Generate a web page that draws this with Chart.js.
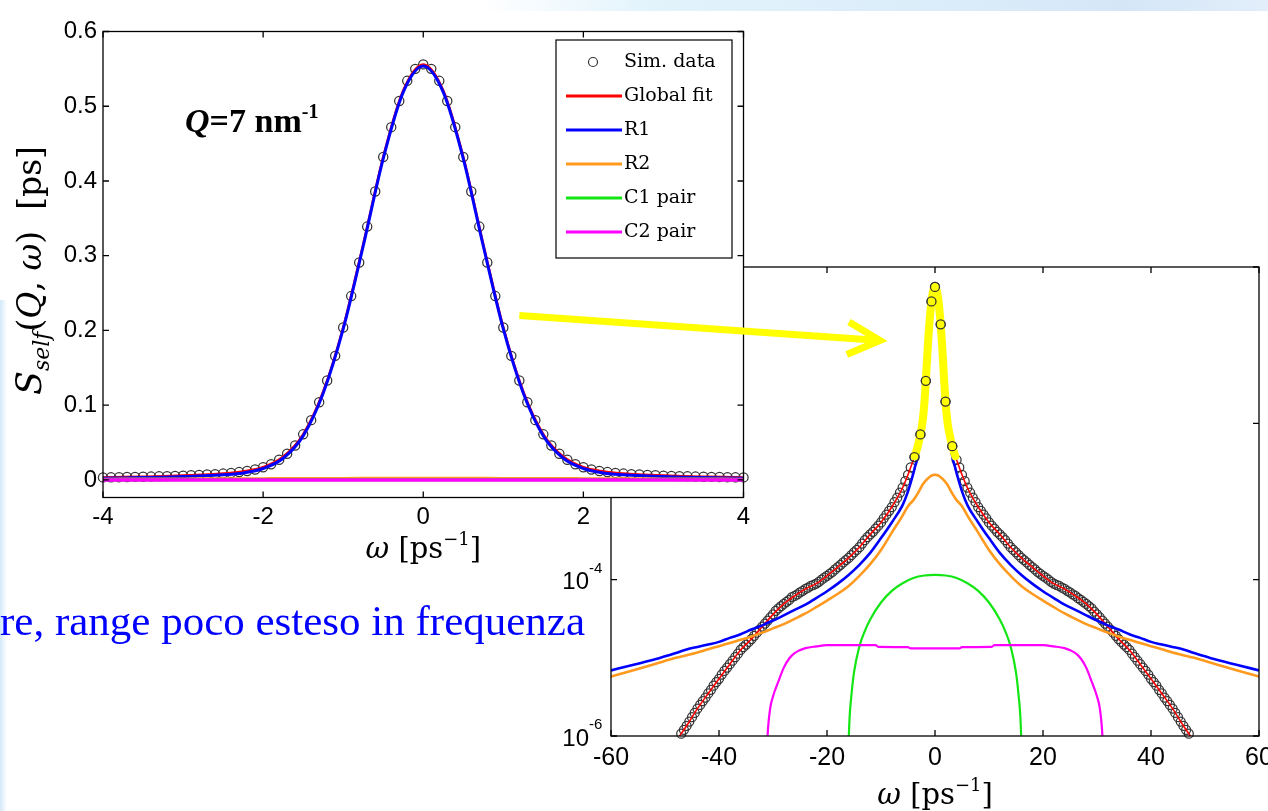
<!DOCTYPE html>
<html>
<head>
<meta charset="utf-8">
<title>S self (Q, omega)</title>
<script src="https://cdn.jsdelivr.net/npm/chart.js@4.4.1/dist/chart.umd.min.js"></script>
<style>
  html, body { margin: 0; padding: 0; width: 1268px; height: 811px; overflow: hidden; background: #fff; }
  .band-top { position: absolute; left: 480px; top: 0; width: 788px; height: 11px;
    background: linear-gradient(to right, rgba(226,243,252,0) 0%, #e2f3fc 22%, #dcedfa 55%, #d5e6f7 82%, #e2eefa 100%); }
  .band-left { position: absolute; left: 0; top: 300px; width: 7px; height: 511px;
    background: linear-gradient(to right, #d2e9f8, rgba(255,255,255,0)); }
  #logBox { position: absolute; left: 540px; top: 240px; width: 760px; height: 571px; }
  #linBox { position: absolute; left: 0; top: 0; width: 900px; height: 580px; }
  #note { position: absolute; left: 0; top: 596px; font: 43px 'Liberation Serif', serif; color: #0000ff; white-space: nowrap; }
</style>
</head>
<body>
<div class="band-top"></div>
<div class="band-left"></div>
<div id="logBox"><canvas id="logChart"></canvas></div>
<div id="linBox"><canvas id="linChart"></canvas></div>
<div id="note">re, range poco esteso in frequenza</div>
<script>
// simulated points, linear panel (omega in ps^-1, S in ps)
const linOmega = [-4.0,-3.9,-3.8,-3.7,-3.6,-3.5,-3.4,-3.3,-3.2,-3.1,-3.0,-2.9,-2.8,-2.7,-2.6,-2.5,-2.4,-2.3,-2.2,-2.1,
  -2.0,-1.9,-1.8,-1.7,-1.6,-1.5,-1.4,-1.3,-1.2,-1.1,-1.0,-0.9,-0.8,-0.7,-0.6,-0.5,-0.4,-0.3,-0.2,-0.1,
  0.0,0.1,0.2,0.3,0.4,0.5,0.6,0.7,0.8,0.9,1.0,1.1,1.2,1.3,1.4,1.5,1.6,1.7,1.8,1.9,
  2.0,2.1,2.2,2.3,2.4,2.5,2.6,2.7,2.8,2.9,3.0,3.1,3.2,3.3,3.4,3.5,3.6,3.7,3.8,3.9,4.0];
const linSim = [0.0034,0.0035,0.0037,0.0039,0.0041,0.0043,0.0045,0.0048,0.0051,0.0054,0.0058,0.0062,0.0067,0.0072,0.0078,0.0085,0.0094,0.0105,0.012,0.014,
  0.017,0.021,0.027,0.035,0.046,0.061,0.080,0.104,0.133,0.166,0.204,0.246,0.291,0.339,0.386,0.432,0.472,0.507,0.534,0.550,
  0.556,0.550,0.534,0.507,0.472,0.432,0.386,0.339,0.291,0.246,0.204,0.166,0.133,0.104,0.080,0.061,0.046,0.035,0.027,0.021,
  0.017,0.014,0.012,0.0105,0.0094,0.0085,0.0078,0.0072,0.0067,0.0062,0.0058,0.0054,0.0051,0.0048,0.0045,0.0043,0.0041,0.0039,0.0037,0.0035,0.0034];

// simulated points, log panel
const logOmega = [-47,-46.5,-46,-45.5,-45,-44.5,-44,-43.5,-43,-42.5,-42,-41.5,-41,-40.5,-40,-39.5,-39,-38.5,-38,-37.5,-37,-36.5,-36,-35.5,-35,-34.5,-34,-33.5,-33,-32.5,-32,-31.5,-31,-30.5,-30,-29.5,-29,-28.5,-28,-27.5,-27,-26.5,-26,-25.5,-25,-24.5,-24,-23.5,-23,-22.5,-22,-21.5,-21,-20.5,-20,-19.5,-19,-18.5,-18,-17.5,-17,-16.5,-16,-15.5,-15,-14.5,-14,-13.5,-13,-12.5,-12,-11.5,-11,-10.5,-10,-9.5,-9,-8.5,-8,-7.5,-7,-6.5,-6,-5.5,-5,-4.5,
  -3.8,-2.7,-1.7,-0.65,0,1.05,1.95,3.2,
  4,4.5,5,5.5,6,6.5,7,7.5,8,8.5,9,9.5,10,10.5,11,11.5,12,12.5,13,13.5,14,14.5,15,15.5,16,16.5,17,17.5,18,18.5,19,19.5,20,20.5,21,21.5,22,22.5,23,23.5,24,24.5,25,25.5,26,26.5,27,27.5,28,28.5,29,29.5,30,30.5,31,31.5,32,32.5,33,33.5,34,34.5,35,35.5,36,36.5,37,37.5,38,38.5,39,39.5,40,40.5,41,41.5,42,42.5,43,43.5,44,44.5,45,45.5,46,46.5,47];
const logSim = [1.07e-6,1.2e-6,1.35e-6,1.53e-6,1.74e-6,1.97e-6,2.24e-6,2.5e-6,2.8e-6,3.1e-6,3.5e-6,3.9e-6,4.4e-6,4.9e-6,5.4e-6,6.1e-6,6.8e-6,7.5e-6,8.3e-6,9.2e-6,1.02e-5,1.13e-5,1.26e-5,1.37e-5,1.48e-5,1.6e-5,1.74e-5,1.91e-5,2.1e-5,2.29e-5,2.5e-5,2.74e-5,3.0e-5,3.3e-5,3.6e-5,4.0e-5,4.3e-5,4.6e-5,4.9e-5,5.2e-5,5.5e-5,6.0e-5,6.2e-5,6.5e-5,6.9e-5,7.2e-5,7.6e-5,7.9e-5,8.3e-5,8.6e-5,8.9e-5,9.4e-5,1.0e-4,1.06e-4,1.12e-4,1.19e-4,1.26e-4,1.35e-4,1.45e-4,1.55e-4,1.66e-4,1.78e-4,1.9e-4,2.06e-4,2.24e-4,2.4e-4,2.6e-4,2.9e-4,3.2e-4,3.5e-4,3.8e-4,4.1e-4,4.5e-4,4.9e-4,5.4e-4,6.1e-4,6.8e-4,7.6e-4,8.5e-4,9.8e-4,1.12e-3,1.3e-3,1.51e-3,1.82e-3,2.19e-3,2.73e-3,
  0.0037,0.0072,0.035,0.362,0.556,0.185,0.019,0.0051,
  3.4e-3,2.73e-3,2.19e-3,1.82e-3,1.51e-3,1.3e-3,1.12e-3,9.8e-4,8.5e-4,7.6e-4,6.8e-4,6.1e-4,5.4e-4,4.9e-4,4.5e-4,4.1e-4,3.8e-4,3.5e-4,3.2e-4,2.9e-4,2.6e-4,2.4e-4,2.24e-4,2.06e-4,1.9e-4,1.78e-4,1.66e-4,1.55e-4,1.45e-4,1.35e-4,1.26e-4,1.19e-4,1.12e-4,1.06e-4,1.0e-4,9.4e-5,8.9e-5,8.6e-5,8.3e-5,7.9e-5,7.6e-5,7.2e-5,6.9e-5,6.5e-5,6.2e-5,5.8e-5,5.5e-5,5.2e-5,4.9e-5,4.6e-5,4.3e-5,3.9e-5,3.6e-5,3.3e-5,3.0e-5,2.74e-5,2.5e-5,2.29e-5,2.1e-5,1.91e-5,1.74e-5,1.6e-5,1.48e-5,1.37e-5,1.26e-5,1.13e-5,1.02e-5,9.2e-6,8.3e-6,7.5e-6,6.8e-6,6.1e-6,5.4e-6,4.9e-6,4.4e-6,3.9e-6,3.5e-6,3.1e-6,2.8e-6,2.5e-6,2.24e-6,1.97e-6,1.74e-6,1.53e-6,1.35e-6,1.2e-6,1.07e-6];

// fitted curves: global fit, R1, R2 share one grid
const fitOmega = [-60,-56,-52,-48,-46,-44,-42,-40,-38,-36,-34,-32,-30,-28,-26,-24,-22,-20,-18,-16,-14,-12,-10,-8,-6,-5,-4,
  -3.75,-3.5,-3.25,-3,-2.75,-2.5,-2.25,-2,-1.75,-1.5,-1.25,-1,-0.75,-0.5,-0.25,0,0.25,0.5,0.75,1,1.25,1.5,1.75,2,2.25,2.5,2.75,3,3.25,3.5,3.75,
  4,5,6,8,10,12,14,16,18,20,22,24,26,28,30,32,34,36,38,40,42,44,46,48,52,56,60];
const globalFit = [6e-8,1.4e-7,3.4e-7,8.5e-7,1.35e-6,2.24e-6,3.5e-6,5.4e-6,8.3e-6,1.26e-5,1.74e-5,2.5e-5,3.6e-5,4.9e-5,6.2e-5,7.6e-5,8.9e-5,1.12e-4,1.45e-4,1.9e-4,2.6e-4,3.8e-4,5.4e-4,8.5e-4,1.5e-3,2.2e-3,3.4e-3,
  3.8e-3,4.3e-3,4.9e-3,5.8e-3,7.0e-3,8.5e-3,1.13e-2,1.7e-2,3.1e-2,6.1e-2,0.118,0.204,0.315,0.432,0.521,0.556,0.521,0.432,0.315,0.204,0.118,6.1e-2,3.1e-2,1.7e-2,1.13e-2,8.5e-3,7.0e-3,5.8e-3,4.9e-3,4.3e-3,3.8e-3,
  3.4e-3,2.2e-3,1.5e-3,8.5e-4,5.4e-4,3.8e-4,2.6e-4,1.9e-4,1.45e-4,1.12e-4,8.9e-5,7.6e-5,6.2e-5,4.9e-5,3.6e-5,2.5e-5,1.74e-5,1.26e-5,8.3e-6,5.4e-6,3.5e-6,2.24e-6,1.35e-6,8.5e-7,3.4e-7,1.4e-7,6e-8];
const r1Fit = [6.9e-6,8.1e-6,9.5e-6,1.15e-5,1.28e-5,1.38e-5,1.48e-5,1.6e-5,1.8e-5,2.0e-5,2.3e-5,2.6e-5,3.0e-5,3.5e-5,4.1e-5,4.8e-5,5.8e-5,7.1e-5,8.9e-5,1.15e-4,1.55e-4,2.2e-4,3.4e-4,5.4e-4,9.0e-4,1.35e-3,2.3e-3,
  2.7e-3,3.1e-3,3.6e-3,4.5e-3,5.5e-3,7.0e-3,9.4e-3,1.53e-2,2.9e-2,5.9e-2,0.116,0.202,0.313,0.430,0.519,0.554,0.519,0.430,0.313,0.202,0.116,5.9e-2,2.9e-2,1.53e-2,9.4e-3,7.0e-3,5.5e-3,4.5e-3,3.6e-3,3.1e-3,2.7e-3,
  2.3e-3,1.35e-3,9.0e-4,5.4e-4,3.4e-4,2.2e-4,1.55e-4,1.15e-4,8.9e-5,7.1e-5,5.8e-5,4.8e-5,4.1e-5,3.5e-5,3.0e-5,2.6e-5,2.3e-5,2.0e-5,1.8e-5,1.6e-5,1.48e-5,1.38e-5,1.28e-5,1.15e-5,9.5e-6,8.1e-6,6.9e-6];
const r2Fit = [5.75e-6,6.9e-6,8.3e-6,1.0e-5,1.08e-5,1.17e-5,1.29e-5,1.41e-5,1.55e-5,1.7e-5,1.88e-5,2.1e-5,2.38e-5,2.7e-5,3.15e-5,3.7e-5,4.45e-5,5.4e-5,6.6e-5,8.3e-5,1.12e-4,1.58e-4,2.4e-4,4.0e-4,6.6e-4,8.7e-4,1.04e-3,
  1.10e-3,1.17e-3,1.25e-3,1.34e-3,1.44e-3,1.55e-3,1.66e-3,1.75e-3,1.84e-3,1.92e-3,1.99e-3,2.06e-3,2.12e-3,2.17e-3,2.19e-3,2.2e-3,2.19e-3,2.17e-3,2.12e-3,2.06e-3,1.99e-3,1.92e-3,1.84e-3,1.75e-3,1.66e-3,1.55e-3,1.44e-3,1.34e-3,1.25e-3,1.17e-3,1.10e-3,
  1.04e-3,8.7e-4,6.6e-4,4.0e-4,2.4e-4,1.58e-4,1.12e-4,8.3e-5,6.6e-5,5.4e-5,4.45e-5,3.7e-5,3.15e-5,2.7e-5,2.38e-5,2.1e-5,1.88e-5,1.7e-5,1.55e-5,1.41e-5,1.29e-5,1.17e-5,1.08e-5,1.0e-5,8.3e-6,6.9e-6,5.75e-6];

// pair contributions
const c1Omega = [-16.3,-16,-15.8,-15.5,-15,-14,-13,-12,-10,-8,-6,-4,-2,0,2,4,6,8,10,12,13,14,15,15.5,15.8,16,16.3];
const c1Fit = [1e-7,8e-7,1.8e-6,3.2e-6,6.5e-6,1.4e-5,2.2e-5,3.1e-5,5.1e-5,7.2e-5,9.0e-5,1.05e-4,1.13e-4,1.15e-4,1.13e-4,1.05e-4,9.0e-5,7.2e-5,5.1e-5,3.1e-5,2.2e-5,1.4e-5,6.5e-6,3.2e-6,1.8e-6,8e-7,1e-7];
const c2Omega = [-31.5,-31,-30.5,-30,-29,-28,-27,-26,-24,-22,-20,-11,-10.5,-5,-4.5,0,4.5,5,10.5,11,20,22,24,26,27,28,29,30,30.5,31,31.5];
const c2Fit = [1e-7,1.0e-6,2.3e-6,3.2e-6,5.0e-6,7.5e-6,9.8e-6,1.15e-5,1.33e-5,1.4e-5,1.45e-5,1.45e-5,1.38e-5,1.37e-5,1.32e-5,1.32e-5,1.32e-5,1.37e-5,1.38e-5,1.45e-5,1.45e-5,1.4e-5,1.33e-5,1.15e-5,9.8e-6,7.5e-6,5.0e-6,3.2e-6,2.3e-6,1.0e-6,1e-7];

// ticks
const linXTicks = [-4, -2, 0, 2, 4];
const linYTicks = [0, 0.1, 0.2, 0.3, 0.4, 0.5, 0.6];
const logXTicks = [-60, -40, -20, 0, 20, 40, 60];
const logYTicks = [1e-6, 1e-4, 1e-2, 1];

const seriesNames = ['Sim. data', 'Global fit', 'R1', 'R2', 'C1 pair', 'C2 pair'];
const seriesColors = ['#333333', '#ff0000', '#0000ff', '#ff9a1f', '#14e614', '#ff00ff'];

// annotations (in data units of each panel)
const qLabelAt = { x: -2.975, y: 0.466 };
const arrowFrom = { x: 1.2, y: 0.22 };   // linear panel
const arrowTo = { x: -10.2, y: 0.115 };  // log panel
const logOffset = { x: 540, y: 240 };    // log panel box relative to linear panel box

Chart.defaults.font.family = "'Liberation Sans', Arial, sans-serif";
Chart.defaults.color = '#000';

function pts(xs, ys, keep) {
  const out = [];
  xs.forEach((x, i) => { if (!keep || keep(x)) out.push({ x: x, y: ys[i] }); });
  return out;
}

function marks(xs, ys, radius, order, keep) {
  return {
    label: seriesNames[0], data: pts(xs, ys, keep), showLine: false,
    pointRadius: radius, pointBorderWidth: 1.25, pointBorderColor: seriesColors[0],
    pointBackgroundColor: 'rgba(0,0,0,0)', order: order, clip: 8
  };
}

function curve(xs, ys, k, width, order) {
  return {
    label: seriesNames[k], data: pts(xs, ys), showLine: true,
    borderColor: seriesColors[k], borderWidth: width, pointRadius: 0,
    cubicInterpolationMode: 'monotone', order: order
  };
}

function drawRuns(ctx, runs, x, y, align) {
  let w = 0;
  runs.forEach(r => { ctx.font = r.f; w += ctx.measureText(r.t).width; });
  let cx = align === 'center' ? x - w / 2 : x;
  runs.forEach(r => {
    ctx.font = r.f;
    ctx.fillText(r.t, cx, y + (r.dy || 0));
    cx += ctx.measureText(r.t).width;
  });
}

const serif = '"DejaVu Serif", serif';
const xTitleRuns = [
  { t: 'ω', f: 'italic 29px ' + serif },
  { t: ' [ps', f: '29px ' + serif },
  { t: '−1', f: '18px ' + serif, dy: -13 },
  { t: ']', f: '29px ' + serif }
];
const yTitleRuns = [
  { t: 'S', f: 'italic 35px ' + serif },
  { t: 'self', f: 'italic 22px ' + serif, dy: 8 },
  { t: '(', f: '33px ' + serif },
  { t: 'Q', f: 'italic 33px ' + serif },
  { t: ', ', f: '33px ' + serif },
  { t: 'ω', f: 'italic 33px ' + serif },
  { t: ')', f: '33px ' + serif },
  { t: '  [ps]', f: '33px ' + serif }
];

// box with inward tick marks, MATLAB style
function framePlugin(xTicks, yTicks, fill) {
  return {
    id: 'frame',
    beforeDraw(chart) {
      if (!fill) return;
      const a = chart.chartArea, ctx = chart.ctx;
      ctx.save();
      ctx.fillStyle = fill;
      ctx.fillRect(a.left, a.top, a.right - a.left, a.bottom - a.top);
      ctx.restore();
    },
    afterDraw(chart) {
      const a = chart.chartArea, ctx = chart.ctx, xs = chart.scales.x, ys = chart.scales.y;
      ctx.save();
      ctx.strokeStyle = '#000';
      ctx.lineWidth = 1.3;
      ctx.strokeRect(a.left, a.top, a.right - a.left, a.bottom - a.top);
      ctx.beginPath();
      xTicks.forEach(v => {
        const p = xs.getPixelForValue(v);
        ctx.moveTo(p, a.bottom); ctx.lineTo(p, a.bottom - 6);
        ctx.moveTo(p, a.top); ctx.lineTo(p, a.top + 6);
      });
      yTicks.forEach(v => {
        const p = ys.getPixelForValue(v);
        ctx.moveTo(a.left, p); ctx.lineTo(a.left + 6, p);
        ctx.moveTo(a.right, p); ctx.lineTo(a.right - 6, p);
      });
      ctx.stroke();
      ctx.restore();
    }
  };
}

const logDecor = {
  id: 'logDecor',
  afterDraw(chart) {
    const ctx = chart.ctx, a = chart.chartArea, xs = chart.scales.x, ys = chart.scales.y;
    ctx.save();
    ctx.fillStyle = '#000';
    logYTicks.forEach(v => {
      const p = ys.getPixelForValue(v);
      const e = Math.round(Math.log10(v));
      ctx.font = "24px 'Liberation Sans'";
      ctx.textAlign = 'right';
      ctx.textBaseline = 'middle';
      ctx.fillText('10', a.left - 22, p + 3);
      ctx.font = "15px 'Liberation Sans'";
      ctx.textAlign = 'left';
      ctx.fillText(e === 0 ? '0' : '-' + Math.abs(e), a.left - 22, p - 11);
    });
    ctx.textAlign = 'left';
    ctx.textBaseline = 'alphabetic';
    drawRuns(ctx, xTitleRuns, xs.getPixelForValue(0), a.bottom + 68, 'center');
    ctx.restore();
  }
};

const logChart = new Chart(document.getElementById('logChart'), {
  type: 'scatter',
  data: {
    datasets: [
      marks(logOmega, logSim, 4.5, 0, x => Math.abs(x) < 4),
      { label: 'highlight', data: pts(fitOmega, globalFit, x => Math.abs(x) <= 3.75), showLine: true,
        borderColor: '#ffff00', borderWidth: 8, borderCapStyle: 'round', pointRadius: 0,
        cubicInterpolationMode: 'monotone', order: 1 },
      curve(c2Omega, c2Fit, 5, 2.2, 2),
      curve(c1Omega, c1Fit, 4, 2.2, 3),
      curve(fitOmega, r2Fit, 3, 2.6, 4),
      curve(fitOmega, r1Fit, 2, 2.6, 5),
      curve(fitOmega, globalFit, 1, 1.6, 6),
      marks(logOmega, logSim, 4.5, 7)
    ]
  },
  options: {
    animation: false, responsive: true, maintainAspectRatio: false, events: [],
    layout: { autoPadding: false, padding: { left: 21, right: 41, top: 27, bottom: 35 } },
    plugins: { legend: { display: false }, tooltip: { enabled: false } },
    scales: {
      x: {
        type: 'linear', min: -60, max: 60,
        afterBuildTicks: s => { s.ticks = logXTicks.map(v => ({ value: v })); },
        afterFit: s => { s.height = 40; },
        grid: { display: false, drawTicks: false }, border: { display: false },
        ticks: { autoSkip: false, maxRotation: 0, padding: 7, font: { size: 25 } }
      },
      y: {
        type: 'logarithmic', min: 1e-6, max: 1,
        afterFit: s => { s.width = 50; },
        grid: { display: false, drawTicks: false }, border: { display: false },
        ticks: { display: false }
      }
    }
  },
  plugins: [framePlugin(logXTicks, logYTicks, null), logDecor]
});

const linDecor = {
  id: 'linDecor',
  afterDraw(chart) {
    const ctx = chart.ctx, a = chart.chartArea, xs = chart.scales.x, ys = chart.scales.y;
    ctx.save();
    ctx.fillStyle = '#000';
    ctx.textAlign = 'left';
    ctx.textBaseline = 'alphabetic';

    // Q = 7 nm^-1
    drawRuns(ctx, [
      { t: 'Q', f: 'italic bold 34px "Liberation Serif"' },
      { t: '=7 nm', f: 'bold 34px "Liberation Serif"' },
      { t: '-1', f: 'bold 20px "Liberation Serif"', dy: -14 }
    ], xs.getPixelForValue(qLabelAt.x), ys.getPixelForValue(qLabelAt.y), 'left');

    // axis titles
    drawRuns(ctx, xTitleRuns, xs.getPixelForValue(0), a.bottom + 60, 'center');
    ctx.save();
    ctx.translate(41, (a.top + a.bottom) / 2 + 6);
    ctx.rotate(-Math.PI / 2);
    drawRuns(ctx, yTitleRuns, 0, 0, 'center');
    ctx.restore();

    // legend
    const bx = a.right - 187.5, by = a.top + 8.5, bw = 176, bh = 218;
    ctx.fillStyle = '#fff';
    ctx.fillRect(bx, by, bw, bh);
    ctx.strokeStyle = '#000';
    ctx.lineWidth = 1.2;
    ctx.strokeRect(bx, by, bw, bh);
    ctx.font = '19px ' + serif;
    ctx.textBaseline = 'middle';
    chart.data.datasets.forEach((ds, i) => {
      const yy = by + 22 + 34 * i;
      if (i === 0) {
        ctx.beginPath();
        ctx.arc(bx + 37, yy, 4.5, 0, Math.PI * 2);
        ctx.strokeStyle = ds.pointBorderColor;
        ctx.lineWidth = 1.2;
        ctx.stroke();
      } else {
        ctx.beginPath();
        ctx.moveTo(bx + 10, yy);
        ctx.lineTo(bx + 66, yy);
        ctx.strokeStyle = ds.borderColor;
        ctx.lineWidth = 3;
        ctx.stroke();
      }
      ctx.fillStyle = '#000';
      ctx.fillText(ds.label, bx + 68, yy);
    });

    // yellow arrow from this panel to the log panel peak
    const p0 = { x: xs.getPixelForValue(arrowFrom.x), y: ys.getPixelForValue(arrowFrom.y) };
    const p1 = {
      x: logChart.scales.x.getPixelForValue(arrowTo.x) + logOffset.x,
      y: logChart.scales.y.getPixelForValue(arrowTo.y) + logOffset.y
    };
    const ang = Math.atan2(p1.y - p0.y, p1.x - p0.x);
    ctx.strokeStyle = '#ffff00';
    ctx.lineWidth = 7;
    ctx.lineCap = 'butt';
    ctx.beginPath();
    ctx.moveTo(p0.x, p0.y);
    ctx.lineTo(p1.x, p1.y);
    ctx.stroke();
    ctx.lineJoin = 'miter';
    ctx.beginPath();
    ctx.moveTo(p1.x + 36 * Math.cos(ang + Math.PI - 0.47), p1.y + 36 * Math.sin(ang + Math.PI - 0.47));
    ctx.lineTo(p1.x, p1.y);
    ctx.lineTo(p1.x + 36 * Math.cos(ang + Math.PI + 0.47), p1.y + 36 * Math.sin(ang + Math.PI + 0.47));
    ctx.stroke();
    ctx.restore();
  }
};

new Chart(document.getElementById('linChart'), {
  type: 'scatter',
  data: {
    datasets: [
      marks(linOmega, linSim, 4.6, 5),
      curve(fitOmega, globalFit, 1, 2.5, 4),
      curve(fitOmega, r1Fit, 2, 3, 3),
      curve(fitOmega, r2Fit, 3, 3, 2),
      curve(c1Omega, c1Fit, 4, 3, 1),
      curve(c2Omega, c2Fit, 5, 3.5, 0)
    ]
  },
  options: {
    animation: false, responsive: true, maintainAspectRatio: false, events: [],
    layout: { autoPadding: false, padding: { left: 50, right: 156.5, top: 31.5, bottom: 20 } },
    plugins: { legend: { display: false }, tooltip: { enabled: false } },
    scales: {
      x: {
        type: 'linear', min: -4, max: 4,
        afterBuildTicks: s => { s.ticks = linXTicks.map(v => ({ value: v })); },
        afterFit: s => { s.height = 62.5; },
        grid: { display: false, drawTicks: false }, border: { display: false },
        ticks: { autoSkip: false, maxRotation: 0, padding: 5, font: { size: 24 } }
      },
      y: {
        type: 'linear', min: -0.0235, max: 0.6,
        afterBuildTicks: s => { s.ticks = linYTicks.map(v => ({ value: v })); },
        afterFit: s => { s.width = 53; },
        grid: { display: false, drawTicks: false }, border: { display: false },
        ticks: {
          padding: 6, font: { size: 24 },
          callback: v => (Math.abs(v) < 1e-9 ? '0' : String(Math.round(v * 10) / 10))
        }
      }
    }
  },
  plugins: [framePlugin(linXTicks, linYTicks, '#fff'), linDecor]
});
</script>
</body>
</html>
